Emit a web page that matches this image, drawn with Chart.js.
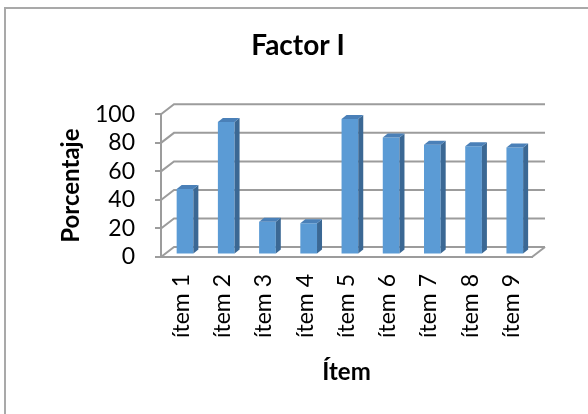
<!DOCTYPE html>
<html lang="es">
<head>
<meta charset="utf-8">
<title>Factor I</title>
<script src="https://cdn.jsdelivr.net/npm/chart.js@4.4.1/dist/chart.umd.min.js"></script>
<style>
  html, body { margin: 0; width: 588px; height: 414px; overflow: hidden; background: #fff; }
  #marco { position: absolute; left: 4px; top: 7px; width: 620px; height: 440px; border-top: 2px solid #a9a9a9; border-left: 2px solid #a9a9a9; }
  #grafico { position: absolute; left: 0; top: 0; }
</style>
</head>
<body>
<div id="marco"></div>
<canvas id="grafico" width="588" height="414"></canvas>
<script>
// Datos del gráfico
const items = ['ítem 1', 'ítem 2', 'ítem 3', 'ítem 4', 'ítem 5', 'ítem 6', 'ítem 7', 'ítem 8', 'ítem 9'];
const porcentajes = [46, 93, 23, 22, 95, 82, 77, 76, 75];
const marcasY = [0, 20, 40, 60, 80, 100];

// Colores estilo Excel
const azulFrente = '#5b9bd5';
const azulLado = '#3b6894';
const azulTapa = '#4a80b8';
const grisRejilla = '#9c9c9c';

// Profundidad de la pared del fondo y de las barras (en píxeles)
const fondoX = 13, fondoY = -10;
const barraX = 3.4, barraY = -2.4;
const ladoX = 5, ladoY = -4;

Chart.defaults.font.family = "Lato, 'Open Sans', sans-serif";
Chart.defaults.color = '#000';

// Plugin que dibuja la pared del fondo y las caras laterales de las barras
const efecto3d = {
    id: 'efecto3d',
    beforeDatasetsDraw(chart) {
        const { ctx, chartArea: a, scales: { y } } = chart;
        ctx.save();
        ctx.strokeStyle = grisRejilla;
        ctx.lineWidth = 2;
        y.ticks.forEach(t => {
            const py = y.getPixelForValue(t.value);
            ctx.beginPath();
            ctx.moveTo(a.left, py);
            ctx.lineTo(a.left + fondoX, py + fondoY);
            ctx.lineTo(a.right + fondoX, py + fondoY);
            ctx.stroke();
        });
        // borde derecho del suelo
        ctx.beginPath();
        ctx.moveTo(a.right, a.bottom);
        ctx.lineTo(a.right + fondoX, a.bottom + fondoY);
        ctx.stroke();
        ctx.restore();

        // las barras quedan un poco hacia dentro
        ctx.save();
        ctx.translate(barraX, barraY);
    },
    afterDatasetsDraw(chart) {
        const ctx = chart.ctx;
        chart.getDatasetMeta(0).data.forEach(bar => {
            const { x, y, base, width } = bar.getProps(['x', 'y', 'base', 'width'], true);
            const izq = x - width / 2, der = x + width / 2;
            ctx.fillStyle = azulLado;
            ctx.beginPath();
            ctx.moveTo(der, y);
            ctx.lineTo(der + ladoX, y + ladoY);
            ctx.lineTo(der + ladoX, base + ladoY);
            ctx.lineTo(der, base);
            ctx.closePath();
            ctx.fill();
            ctx.fillStyle = azulTapa;
            ctx.beginPath();
            ctx.moveTo(izq, y);
            ctx.lineTo(izq + ladoX, y + ladoY);
            ctx.lineTo(der + ladoX, y + ladoY);
            ctx.lineTo(der, y);
            ctx.closePath();
            ctx.fill();
        });
        ctx.restore();
    }
};

const ctx = document.getElementById('grafico').getContext('2d');
const grafico = new Chart(ctx, {
    type: 'bar',
    data: {
        labels: items,
        datasets: [{
            label: 'Porcentaje',
            data: porcentajes,
            backgroundColor: azulFrente,
            borderWidth: 0,
            barPercentage: 0.405,
            categoryPercentage: 1
        }]
    },
    options: {
        responsive: false,
        animation: false,
        events: [],
        layout: { padding: { left: 8, right: 0, top: 0, bottom: 0 } },
        plugins: {
            legend: { display: false },
            tooltip: { enabled: false },
            title: {
                display: true,
                text: 'Factor I',
                font: { size: 28, weight: 'bold' },
                padding: { top: 29, bottom: 51.7 }
            }
        },
        scales: {
            x: {
                grid: { display: false, drawTicks: false },
                border: { display: true, color: grisRejilla, width: 2 },
                ticks: { font: { size: 23 }, minRotation: 90, maxRotation: 90, autoSkip: false, padding: 17 },
                title: { display: true, text: 'Ítem', font: { size: 24, weight: 'bold' }, padding: { bottom: 27 } },
                afterFit: s => { s.height = 157; }
            },
            y: {
                min: 0,
                max: 100,
                afterBuildTicks: s => { s.ticks = marcasY.map(v => ({ value: v })); },
                grid: { drawOnChartArea: false, drawTicks: true, tickLength: 6, color: grisRejilla, lineWidth: 2 },
                border: { display: true, color: grisRejilla, width: 2 },
                ticks: { font: { size: 23 }, padding: 20, autoSkip: false },
                title: { display: true, text: 'Porcentaje', font: { size: 24, weight: 'bold' }, padding: { top: 49 } },
                afterFit: s => { s.width = 153; }
            },
            // eje vacío para dejar el margen derecho
            margen: {
                type: 'linear',
                position: 'right',
                grid: { display: false },
                border: { display: false },
                ticks: { display: false },
                afterFit: s => { s.width = 56; }
            }
        }
    },
    plugins: [efecto3d]
});
</script>
</body>
</html>
